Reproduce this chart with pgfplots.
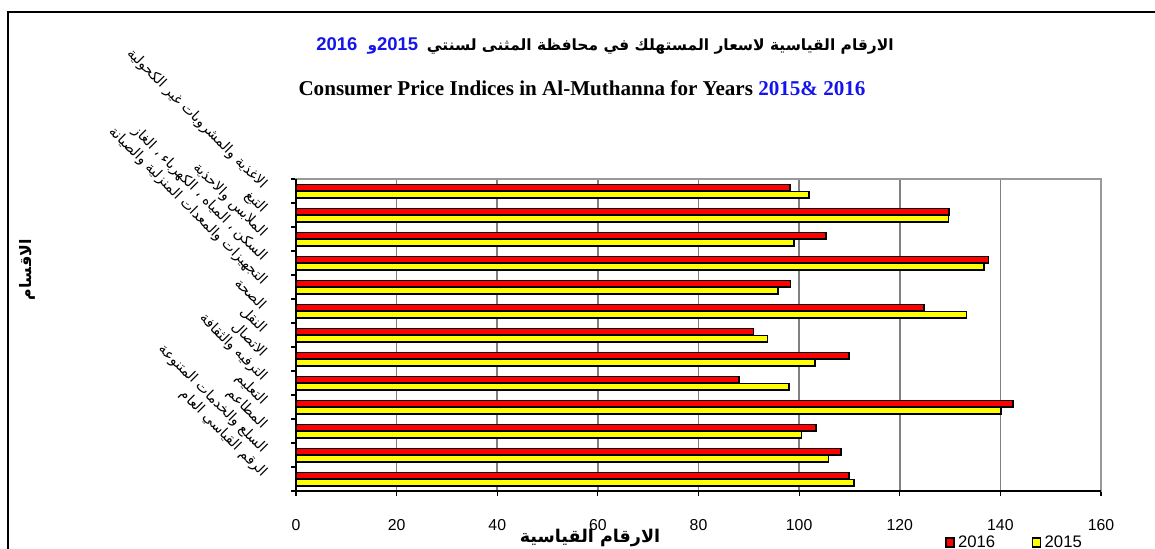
\documentclass[border=0pt]{standalone}
\usepackage{fontspec}
\usepackage{pgfplots}
\pgfplotsset{compat=1.18}
\setmainfont{Liberation Sans}
\newfontfamily\arabicfont[Script=Arabic]{DejaVu Sans}
\newfontfamily\timesfont{Liberation Serif}
\TeXXeTstate=1
\definecolor{barred}{RGB}{255,0,0}
\definecolor{baryellow}{RGB}{255,255,0}
\definecolor{tblue}{RGB}{20,20,235}
\begin{document}
\begin{tikzpicture}
\useasboundingbox (0,0) rectangle (23.1,10.96);
\draw[line width=1.3pt] (0.16,-2) -- (0.16,10.72) -- (25,10.72);
\begin{axis}[
  at={(5.92cm,1.14cm)}, anchor=south west,
  width=16.1cm, height=6.24cm, scale only axis,
  clip=false,
  xmin=0, xmax=160, xtick={0,20,...,160},
  ymin=0.5, ymax=13.5, y dir=reverse,
  ytick={1,...,13},
  minor ytick={0.5,1.5,...,13.5},
  yticklabels={
    {\beginR الاغذية والمشروبات غير الكحولية\endR},
    {\beginR التبغ\endR},
    {\beginR الملابس والاحذية\endR},
    {\beginR السكن ، المياه ، الكهرباء ، الغاز\endR},
    {\beginR التجهيزات والمعدات المنزلية والصيانة\endR},
    {\beginR الصحة\endR},
    {\beginR النقل\endR},
    {\beginR الاتصال\endR},
    {\beginR الترفيه والثقافة\endR},
    {\beginR التعليم\endR},
    {\beginR المطاعم\endR},
    {\beginR السلع والخدمات المتنوعة\endR},
    {\beginR الرقم القياسي العام\endR}},
  yticklabel style={font=\arabicfont\fontsize{8}{9}\selectfont, anchor=east, rotate=-45},
  yticklabel shift=0.45cm,
  /pgf/number format/assume math mode=true,
  xticklabel style={font=\fontsize{9}{10}\selectfont},
  xticklabel shift=0.35cm,
  tick align=outside, xtick pos=bottom, ytick pos=left,
  major tick length=0.1cm, minor tick length=0.1cm,
  major y tick style={draw=none},
  minor y tick style={black, line width=0.6pt},
  major x tick style={black, line width=0.6pt},
  xmajorgrids, grid style={gray, line width=0.9pt},
  axis line style={gray!80, line width=1.3pt},
  legend style={at={(0.806,-0.167)}, anchor=west, draw=none, fill=none,
    legend columns=2, font=\fontsize{9.5}{10}\selectfont,
    /tikz/every even column/.append style={column sep=0.66cm},
    inner sep=0pt},
  legend image code/.code={\draw[#1, line width=0.8pt] (0cm,-0.08cm) rectangle (0.16cm,0.1cm);},
]
\draw[black, line width=1.3pt] (axis cs:0,0.5) -- (axis cs:0,13.5) -- (axis cs:160,13.5);
\addplot[xbar, fill=barred, draw=black, line width=0.9pt, bar width=0.28, bar shift=-0.13]
  coordinates {(98.2,1) (129.8,2) (105.3,3) (137.6,4) (98.3,5) (124.8,6) (90.9,7) (109.9,8) (88.1,9) (142.5,10) (103.4,11) (108.3,12) (109.9,13)};
\addlegendentry{2016}
\addplot[xbar, fill=baryellow, draw=black, line width=0.9pt, bar width=0.28, bar shift=0.16]
  coordinates {(102.0,1) (129.7,2) (99.0,3) (136.8,4) (95.8,5) (133.3,6) (93.7,7) (103.1,8) (98.0,9) (140.1,10) (100.5,11) (105.8,12) (110.9,13)};
\addlegendentry{2015}
\end{axis}
\node at (12.1,10.04) {\bfseries\fontsize{8.8}{11}\selectfont\textcolor{tblue}{\fontsize{10.5}{12}\selectfont 2016\ \ {\arabicfont\fontsize{8.8}{11}\selectfont و}2015}\ \ {\arabicfont\beginR الارقام القياسية لاسعار المستهلك في محافظة المثنى لسنتي\endR}};
\node at (11.64,9.2) {\timesfont\bfseries\fontsize{12}{14}\selectfont Consumer Price Indices in Al-Muthanna for Years \textcolor{tblue}{2015\& 2016}};
\node[rotate=90] at (0.54,5.56) {\arabicfont\bfseries\fontsize{9}{10}\selectfont\beginR الاقسام\endR};
\node at (11.8,0.2) {\arabicfont\bfseries\fontsize{10}{11}\selectfont\beginR الارقام القياسية\endR};
\end{tikzpicture}
\end{document}
